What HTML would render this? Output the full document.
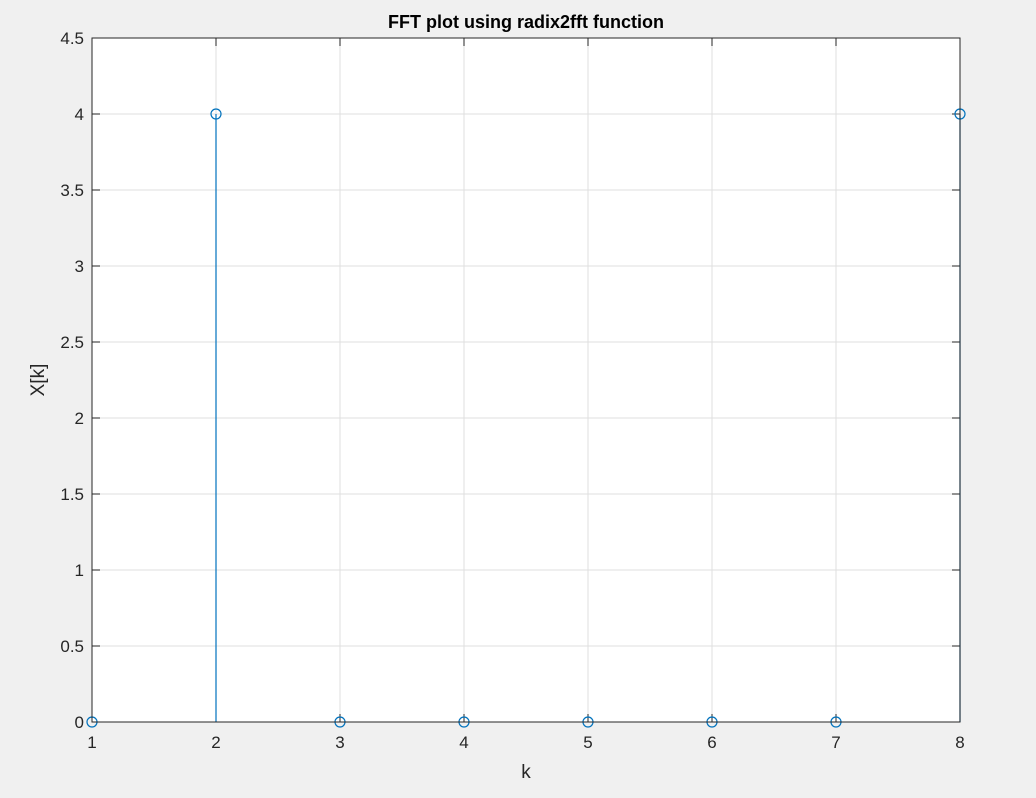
<!DOCTYPE html>
<html><head><meta charset="utf-8"><style>
body{margin:0;background:#f0f0f0;}
svg{display:block;font-family:"Liberation Sans",sans-serif;}
</style></head><body>
<svg id="chart" width="1036" height="798">
<rect x="0" y="0" width="1036" height="798" fill="#f0f0f0"/>
<rect x="92" y="38" width="868" height="684" fill="#fff"/>
<g id="grid"></g><g id="ticks"></g><g id="marks"></g>
<rect x="92" y="38" width="868" height="684" fill="none" stroke="#262626" stroke-width="1"/>
<text x="526" y="28" text-anchor="middle" font-size="18" font-weight="bold" fill="#000">FFT plot using radix2fft function</text>
<text x="526" y="778" text-anchor="middle" font-size="19" fill="#262626">k</text>
<text x="44" y="380" text-anchor="middle" font-size="19" fill="#262626" transform="rotate(-90 44 380)">X[k]</text>
</svg>
<script>
const kValues=[1,2,3,4,5,6,7,8];
const magnitudes=[0,4,0,0,0,0,0,4];
const xTicks=[1,2,3,4,5,6,7,8];
const yTicks=[0,0.5,1,1.5,2,2.5,3,3.5,4,4.5];
const X0=92,X1=960,Y0=722,Y1=38;
const xs=v=>X0+(v-1)/(8-1)*(X1-X0);
const ys=v=>Y0-(v/4.5)*(Y0-Y1);
const NS="http://www.w3.org/2000/svg";
function mk(t,a,p){const e=document.createElementNS(NS,t);for(const k in a)e.setAttribute(k,a[k]);p.appendChild(e);return e;}
const grid=document.getElementById('grid'),ticks=document.getElementById('ticks'),marks=document.getElementById('marks');
xTicks.forEach(v=>{const x=xs(v);
 let g=mk('line',{x1:x,x2:x,y1:Y1,y2:Y0,stroke:'#dfdfdf','stroke-width':1},grid);
 
 
 mk('line',{x1:x,x2:x,y1:Y0,y2:Y0-8,stroke:'#262626'},ticks);
 mk('line',{x1:x,x2:x,y1:Y1,y2:Y1+8,stroke:'#262626'},ticks);
 let t=mk('text',{x:x,y:Y0+26,'text-anchor':'middle','font-size':17,fill:'#262626'},ticks);
 t.textContent=v;
 
 
});
yTicks.forEach(v=>{const y=ys(v);
 let g=mk('line',{x1:X0,x2:X1,y1:y,y2:y,stroke:'#dfdfdf','stroke-width':1},grid);
 
 
 mk('line',{x1:X0,x2:X0+8,y1:y,y2:y,stroke:'#262626'},ticks);
 mk('line',{x1:X1,x2:X1-8,y1:y,y2:y,stroke:'#262626'},ticks);
 let t=mk('text',{x:X0-8,y:y+6,'text-anchor':'end','font-size':17,fill:'#262626'},ticks);
 t.textContent=v;
 
 
});
kValues.forEach((k,i)=>{const x=xs(k),y=ys(magnitudes[i]);
 let s=mk('line',{x1:x,x2:x,y1:ys(0),y2:y,stroke:'#0072BD','stroke-width':1.2},marks);
 
 
 let c=mk('circle',{cx:x,cy:y,r:5,fill:'none',stroke:'#0072BD','stroke-width':1.2},marks);
 
 
});
</script>
</body></html>
